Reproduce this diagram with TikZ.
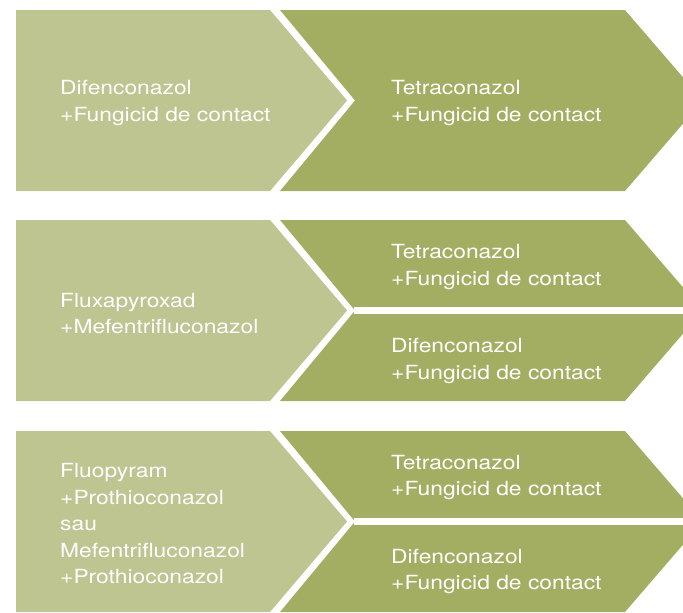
\documentclass[tikz,border=0pt]{standalone}
\usepackage{fontspec}
\setmainfont{TeX Gyre Heros}[FakeStretch=1.17]
\definecolor{lightolive}{RGB}{190,197,145}
\definecolor{darkolive}{RGB}{164,174,99}
\begin{document}
\begin{tikzpicture}[x=1pt,y=-1pt,
  lbl/.style={anchor=west,align=left,text=white,inner sep=0pt,
    font=\fontsize{19.5}{26.5}\selectfont},
  lightpart/.style={fill=lightolive,draw=none},
  darkpart/.style={fill=darkolive,draw=none},
  gapband/.style={fill=white,draw=none}]
\useasboundingbox (0,0) rectangle (683,613);
\clip (0,0) rectangle (683,613);
% row shapes: top, bottom
\foreach \t/\b in {10/191,220/401,431/612}{
  \pgfmathsetmacro{\m}{(\t+\b)/2}
  \fill[lightpart] (16,\t) -- (270,\t) -- (347,\m) -- (270,\b) -- (16,\b) -- cycle;
  \fill[darkpart] (280,\t) -- (625,\t) -- (703,\m) -- (625,\b) -- (280,\b) -- (355,\m) -- cycle;
}
% horizontal gaps in rows 2 and 3
\fill[gapband] (354,307) rectangle (690,314);
\fill[gapband] (354,518) rectangle (690,525);
% labels
\node[lbl] (l1) at (60,103) {Difenconazol\\+Fungicid de contact};
\node[lbl] (r1) at (391,103) {Tetraconazol\\+Fungicid de contact};
\node[lbl] (l2) at (60,313.5) {Fluxapyroxad\\+Mefentrifluconazol};
\node[lbl] (r2a) at (391,267) {Tetraconazol\\+Fungicid de contact};
\node[lbl] (r2b) at (391,361) {Difenconazol\\+Fungicid de contact};
\node[lbl] (l3) at (60,524) {Fluopyram\\+Prothioconazol\\sau\\Mefentrifluconazol\\+Prothioconazol};
\node[lbl] (r3a) at (391,477.5) {Tetraconazol\\+Fungicid de contact};
\node[lbl] (r3b) at (391,571.5) {Difenconazol\\+Fungicid de contact};
\end{tikzpicture}
\end{document}
